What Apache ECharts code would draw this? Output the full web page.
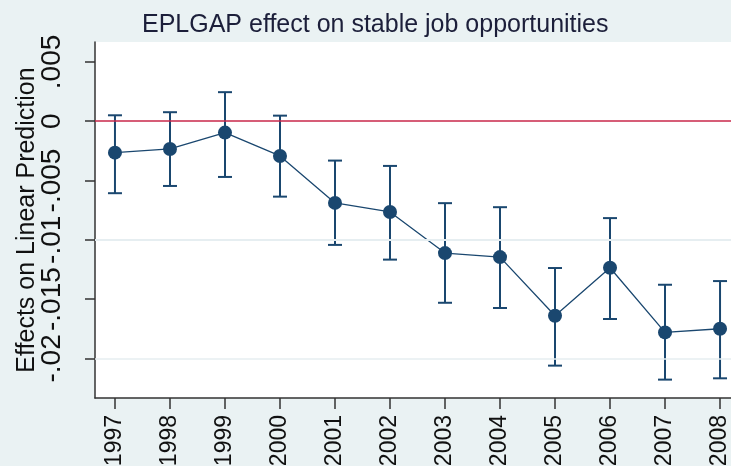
<!DOCTYPE html>
<html>
<head>
<meta charset="utf-8">
<script src="https://cdn.jsdelivr.net/npm/echarts@6/dist/echarts.min.js"></script>
<style>
  html, body { margin: 0; padding: 0; background: #eaf2f3; }
  #chart { width: 731px; height: 466px; }
</style>
</head>
<body>
<div id="chart"></div>
<script>
// margins by year
var years = [1997, 1998, 1999, 2000, 2001, 2002, 2003, 2004, 2005, 2006, 2007, 2008];
var estimates = [-0.00265, -0.00234, -0.00096, -0.00293, -0.00689, -0.00765, -0.01112, -0.01146, -0.0164, -0.01236, -0.01781, -0.0175];
var upperCI = [0.0005, 0.00076, 0.00245, 0.00047, -0.00332, -0.00377, -0.00691, -0.00725, -0.01238, -0.00817, -0.01379, -0.01348];
var lowerCI = [-0.00607, -0.00546, -0.0047, -0.00636, -0.01043, -0.01167, -0.01531, -0.01575, -0.02061, -0.01668, -0.02179, -0.02168];
var yTicks = [-0.02, -0.015, -0.01, -0.005, 0, 0.005];
var yTickLabels = ['-.02', '-.015', '-.01', '-.005', '0', '.005'];

var navy = '#1a476f';

function yLabel(v) {
    for (var i = 0; i < yTicks.length; i++) {
        if (Math.abs(yTicks[i] - v) < 1e-9) return yTickLabels[i];
    }
    return '';
}

var myChart = echarts.init(document.getElementById('chart'));

myChart.setOption({
    backgroundColor: '#eaf2f3',
    animation: false,
    title: {
        text: 'EPLGAP effect on stable job opportunities',
        left: 137,
        top: 8,
        textStyle: { fontFamily: 'Liberation Sans', fontSize: 25, fontWeight: 'normal', color: '#1c1f3a' }
    },
    grid: {
        left: 95, top: 42, right: -9, bottom: 68,
        outerBoundsMode: 'none',
        containLabel: false,
        show: true, backgroundColor: '#ffffff', borderWidth: 0
    },
    xAxis: {
        type: 'value',
        min: 1996.637,
        max: 2008.363,
        splitLine: { show: false },
        axisLine: { onZero: false, lineStyle: { color: '#333', width: 1.5 } },
        axisTick: { customValues: years, length: 11, lineStyle: { color: '#333', width: 1.5 } },
        axisLabel: {
            customValues: years,
            rotate: 90,
            margin: 17,
            hideOverlap: false,
            showMinLabel: true,
            showMaxLabel: true,
            fontFamily: 'Liberation Sans',
            fontSize: 23,
            color: '#111',
            formatter: function (v) { return String(Math.round(v)); }
        }
    },
    yAxis: {
        type: 'value',
        min: -0.02334,
        max: 0.00668,
        name: 'Effects on Linear Prediction',
        nameLocation: 'middle',
        nameRotate: 90,
        nameGap: 55,
        nameMoveOverlap: false,
        nameTextStyle: { fontFamily: 'Liberation Sans', fontSize: 25, color: '#111' },
        splitLine: { show: false },
        axisLine: { show: true, onZero: false, lineStyle: { color: '#333', width: 1.5 } },
        axisTick: { show: true, customValues: yTicks, length: 10, lineStyle: { color: '#333', width: 1.5 } },
        axisLabel: {
            customValues: yTicks,
            rotate: 90,
            margin: 29,
            hideOverlap: false,
            showMinLabel: true,
            showMaxLabel: true,
            fontFamily: 'Liberation Sans',
            fontSize: 28,
            color: '#111',
            formatter: yLabel
        }
    },
    series: [
        {
            // grid lines and the zero reference line
            type: 'line',
            data: [],
            silent: true,
            markLine: {
                silent: true,
                symbol: 'none',
                label: { show: false },
                lineStyle: { color: '#e6eef0', width: 1.5, type: 'solid' },
                data: yTicks.filter(function (v) { return v !== 0; }).map(function (v) { return { yAxis: v }; })
            },
            z: 1
        },
        {
            type: 'line',
            data: [],
            silent: true,
            markLine: {
                silent: true,
                symbol: 'none',
                label: { show: false },
                lineStyle: { color: '#c8274a', width: 1.5, type: 'solid' },
                data: [{ yAxis: 0 }]
            },
            z: 2
        },
        {
            type: 'custom',
            data: years.map(function (y, i) { return [y, lowerCI[i], upperCI[i]]; }),
            encode: { x: 0, y: [1, 2] },
            renderItem: function (params, api) {
                var x = api.value(0);
                var lo = api.coord([x, api.value(1)]);
                var hi = api.coord([x, api.value(2)]);
                var w = 7;
                var style = { stroke: navy, lineWidth: 2 };
                return {
                    type: 'group',
                    children: [
                        { type: 'line', shape: { x1: lo[0], y1: lo[1], x2: hi[0], y2: hi[1] }, style: style },
                        { type: 'line', shape: { x1: hi[0] - w, y1: hi[1], x2: hi[0] + w, y2: hi[1] }, style: style },
                        { type: 'line', shape: { x1: lo[0] - w, y1: lo[1], x2: lo[0] + w, y2: lo[1] }, style: style }
                    ]
                };
            },
            z: 3
        },
        {
            type: 'line',
            data: years.map(function (y, i) { return [y, estimates[i]]; }),
            symbol: 'circle',
            symbolSize: 14,
            itemStyle: { color: navy },
            lineStyle: { color: navy, width: 1.3 },
            z: 4
        }
    ]
});
</script>
</body>
</html>
